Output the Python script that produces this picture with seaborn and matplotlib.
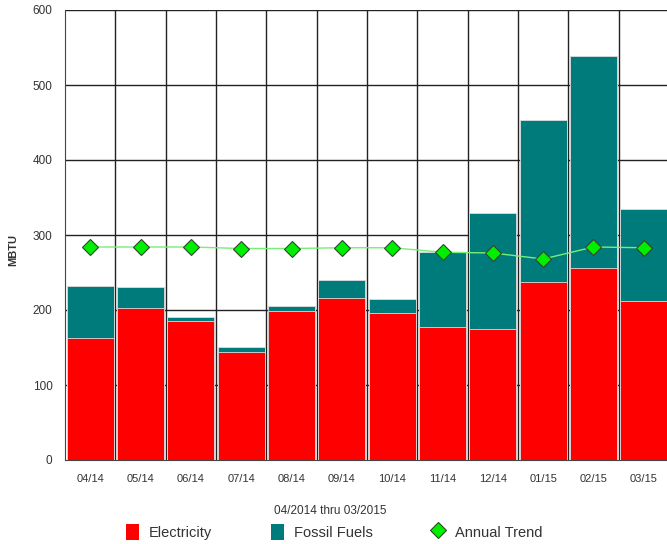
import numpy as np
import pandas as pd
import matplotlib
matplotlib.use("Agg")
import matplotlib.pyplot as plt
from matplotlib.patches import Patch
from matplotlib.lines import Line2D
import seaborn as sns

months = ["04/14", "05/14", "06/14", "07/14", "08/14", "09/14",
          "10/14", "11/14", "12/14", "01/15", "02/15", "03/15"]
electricity = [163, 203, 185, 144, 199, 216, 196, 177, 175, 237, 256, 212]
total = [232, 231, 191, 151, 205, 240, 215, 277, 330, 453, 539, 335]
trend = [284, 284, 284, 282, 282, 283, 283, 277, 276, 268, 284, 283]

df = pd.DataFrame({"month": months, "electricity": electricity,
                   "total": total, "trend": trend})

sns.set_style("white")
plt.rcParams["font.family"] = ["Liberation Sans", "DejaVu Sans"]

fig = plt.figure(figsize=(6.67, 5.44), dpi=100)
ax = fig.add_axes([65 / 667, 84 / 544, 604 / 667, 450 / 544])

red = "#FF0000"
teal = "#007B7B"

# stacked bars: total (teal) behind, electricity (red) in front
sns.barplot(data=df, x="month", y="total", color=teal, width=0.93,
            saturation=1, edgecolor="#dddddd", linewidth=0.6, ax=ax, zorder=2)
sns.barplot(data=df, x="month", y="electricity", color=red, width=0.93,
            saturation=1, edgecolor="#dddddd", linewidth=0.6, ax=ax, zorder=3)

x = np.arange(len(months))
ax.plot(x, df["trend"], color="#77ee77", lw=1.0, zorder=4)
ax.plot(x, df["trend"], ls="none", marker="D", ms=8, mfc="#00ee00",
        mec="#2a4a2a", mew=0.8, zorder=5)

ax.set_xlim(-0.5, len(months) - 0.5)
ax.set_ylim(0, 600)
ax.set_yticks(range(0, 700, 100))

# grid lines behind bars, at slot boundaries
for b in np.arange(0.5, len(months) - 0.5, 1):
    ax.axvline(b, color="#222222", lw=1.0, zorder=1)
for yv in range(100, 700, 100):
    ax.axhline(yv, color="#222222", lw=1.0, zorder=1)

ax.set_xticks(np.arange(0.5, len(months) - 0.5, 1))
ax.set_xticklabels([])
ax.set_xticks(x, minor=True)
ax.set_xticklabels(months, minor=True)
ax.tick_params(axis="x", which="major", length=9, width=1, color="#333333",
               direction="out")
ax.tick_params(axis="x", which="minor", length=0, pad=10, labelsize=8,
               labelcolor="#333333")
ax.tick_params(axis="y", length=8, width=1.5, color="#222222", direction="out",
               labelsize=8.5, labelcolor="#333333", pad=1)

for s in ["top", "right"]:
    ax.spines[s].set_visible(False)
ax.spines["left"].set_color("#444444")
ax.spines["bottom"].set_color("#444444")

ax.set_xlabel("")
ax.set_ylabel("MBTU", fontsize=8, fontweight="bold", color="#333333")
ax.yaxis.set_label_coords(-0.078, 0.467)

fig.text(330 / 667, 1 - 511 / 544, "04/2014 thru 03/2015", ha="center",
         va="center", fontsize=8.5, color="#333333")

handles = [
    Patch(facecolor=red, edgecolor="none", label="Electricity"),
    Patch(facecolor=teal, edgecolor="none", label="Fossil Fuels"),
    Line2D([], [], ls="none", marker="D", ms=8, mfc="#00ee00", mec="#2a4a2a",
           mew=0.8, label="Annual Trend"),
]
fig.legend(handles=handles, loc="center", bbox_to_anchor=(334 / 667, 1 - 532 / 544),
           ncol=3, frameon=False, fontsize=10.5, columnspacing=4.0,
           handlelength=0.9, handleheight=1.3, handletextpad=0.7,
           labelcolor="#333333")

fig.savefig("out.png", dpi=100)
